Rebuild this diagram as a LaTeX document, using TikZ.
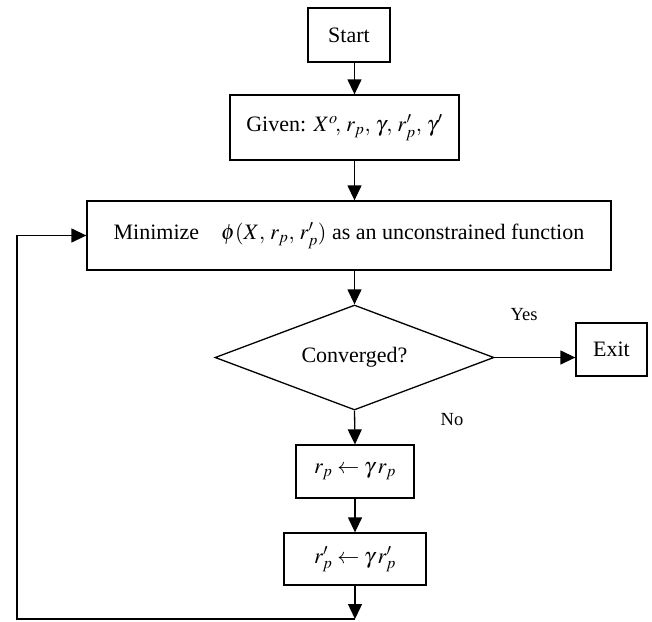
\documentclass[tikz,border=0pt]{standalone}
\usepackage{mathptmx}
\usepackage{fontspec}
\setmainfont{Liberation Serif}
\usetikzlibrary{arrows.meta,shapes.geometric}
\begin{document}
\begin{tikzpicture}[x=1pt,y=-1pt,
  box/.style={draw,line width=1.3pt,inner sep=0pt,font=\fontsize{22}{26}\selectfont},
  decision/.style={draw,diamond,aspect=2.6,line width=1.3pt,inner sep=0pt,
    minimum width=279pt,minimum height=105pt,font=\fontsize{22}{26}\selectfont},
  flow/.style={line width=1.3pt,-{Triangle[length=15pt,width=14pt]}},
  tag/.style={font=\fontsize{18.5}{22}\selectfont}]
\useasboundingbox (0,0) rectangle (652,621);

% process boxes
\node[box,minimum width=82pt,minimum height=54pt] (start) at (349,35) {Start};
\node[box,minimum width=229pt,minimum height=65pt] (given) at (344.5,127.5)
  {Given: $X^{o}\!,\, r_{p},\, \gamma,\, r_{p}^{\prime},\, \gamma^{\prime}$};
\node[box,minimum width=524pt,minimum height=69pt] (mini) at (349,235.5)
  {Minimize\quad $\phi(X,\, r_{p},\, r_{p}^{\prime})$ as an unconstrained function\hspace{12pt}};
\node[decision] (conv) at (354.5,357.5) {Converged?};
\node[box,minimum width=71pt,minimum height=53pt] (exit) at (611.5,349.5) {Exit};
\node[box,minimum width=118pt,minimum height=53pt] (rp) at (355,471.5)
  {$r_{p} \leftarrow \gamma\, r_{p}$};
\node[box,minimum width=142pt,minimum height=52pt] (rpp) at (355,559)
  {$r'_{p} \leftarrow \gamma\, r'_{p}$};

% branch labels
\node[tag] (yes) at (524,315) {Yes};
\node[tag] (no) at (452,420) {No};

% loop-back route
\coordinate (bot) at (355,619);
\coordinate (corner) at (17,619);

% connectors (the main column runs at the decision's centre line)
\draw[flow] (conv.north |- start.south) -- (conv.north |- given.north);
\draw[flow] (conv.north |- given.south) -- (conv.north |- mini.north);
\draw[flow] (conv.north |- mini.south) -- (conv.north);
\draw[flow] (conv.east) -- (conv.east -| exit.west);
\draw[flow] (conv.south) -- (rp.north);
\draw[flow] (rp.south) -- (rpp.north);
\draw[flow] (rpp.south) -- (bot);
\draw[flow] (bot) -- (corner) |- (mini.west);
\end{tikzpicture}
\end{document}
